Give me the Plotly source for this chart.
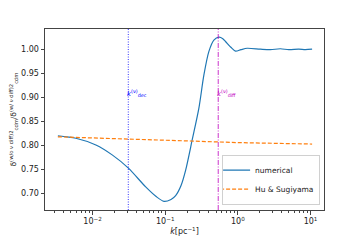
import plotly.graph_objects as go
import math

# numerical ratio
k_num = [0.00333, 0.00588, 0.0111, 0.0188, 0.0311, 0.0538, 0.075, 0.096, 0.12, 0.139,
         0.165, 0.191, 0.236, 0.290, 0.340, 0.398, 0.467, 0.547, 0.620, 0.676, 0.80, 0.927,
         1.10, 1.34, 2.04, 2.80, 3.85, 5.00, 6.87, 8.49, 10.5]
r_num = [0.820, 0.815, 0.801, 0.780, 0.753, 0.714, 0.694, 0.684, 0.688, 0.696,
         0.717, 0.749, 0.813, 0.877, 0.946, 0.995, 1.019, 1.025, 1.022, 1.016, 1.004, 0.996,
         0.999, 1.002, 1.000, 0.999, 1.001, 0.999, 1.000, 0.999, 1.000]

# Hu & Sugiyama
k_hs = [0.00333, 0.01, 0.031, 0.1, 0.25, 1.0, 3.0, 10.5]
r_hs = [0.818, 0.816, 0.813, 0.811, 0.809, 0.806, 0.804, 0.803]

k_dec = 0.031
k_diff = 0.536

xtick_vals = [0.01, 0.1, 1, 10]
xtick_text = ["10<sup>−2</sup>", "10<sup>−1</sup>", "10<sup>0</sup>", "10<sup>1</sup>"]
ytick_vals = [0.70, 0.75, 0.80, 0.85, 0.90, 0.95, 1.00]

minor_vals = [m * 10.0 ** e for e in range(-3, 2) for m in range(2, 10)]

fig = go.Figure()
fig.add_trace(go.Scatter(x=k_num, y=r_num, mode="lines", name="numerical",
                         line=dict(color="#1f77b4", width=1.2, shape="spline", smoothing=0.8)))
fig.add_trace(go.Scatter(x=k_hs, y=r_hs, mode="lines", name="Hu & Sugiyama",
                         line=dict(color="#ff7f0e", width=1.2, dash="4px,2px")))
fig.add_trace(go.Scatter(x=[k_dec, k_dec], y=[0, 1], yaxis="y2", mode="lines", showlegend=False,
                         line=dict(color="#0000ff", width=0.8, dash="1px,1.5px")))
fig.add_trace(go.Scatter(x=[k_diff, k_diff], y=[0, 1], yaxis="y2", mode="lines", showlegend=False,
                         line=dict(color="#bf00bf", width=0.8, dash="5px,1.5px,1px,1.5px")))

fig.add_annotation(x=math.log10(k_dec), y=0.909, xref="x", yref="y", xanchor="left", yanchor="middle",
                   text="<i>k</i><sup>(ν)</sup><sub>dec</sub>", showarrow=False,
                   font=dict(color="#0000ff", size=7), xshift=-3)
fig.add_annotation(x=math.log10(k_diff), y=0.909, xref="x", yref="y", xanchor="left", yanchor="middle",
                   text="<i>k</i><sup>(ν)</sup><sub>diff</sub>", showarrow=False,
                   font=dict(color="#bf00bf", size=7), xshift=-3)

axis_common = dict(showline=True, linecolor="#444", linewidth=1, mirror=True, showgrid=False,
                   ticks="outside", ticklen=3.5, tickwidth=0.8, tickcolor="#444", zeroline=False,
                   automargin=False)

fig.update_layout(
    width=360, height=240,
    margin=dict(l=45, r=36, t=29, b=30),
    paper_bgcolor="white", plot_bgcolor="white",
    font=dict(family="DejaVu Sans", size=8, color="#222"),
    xaxis=dict(type="log", range=[-2.655, 1.185], tickvals=xtick_vals, ticktext=xtick_text,
               minor=dict(tickvals=minor_vals, ticks="outside", ticklen=2, tickwidth=0.6, tickcolor="#444"),
               title=dict(text="<i>k</i>[pc<sup>−1</sup>]", standoff=2, font=dict(size=8)),
               **axis_common),
    yaxis=dict(range=[0.666, 1.042], tickvals=ytick_vals, tickformat=".2f",
               title=dict(text="δ<sup>(w/o ν diff)2</sup><sub>cdm</sub>/δ<sup>(w/ ν diff)2</sup><sub>cdm</sub>",
                          standoff=3, font=dict(size=7.5)),
               **axis_common),
    yaxis2=dict(overlaying="y", range=[0, 1], visible=False, fixedrange=True),
    legend=dict(x=0.986, y=0.03, xanchor="right", yanchor="bottom", bgcolor="rgba(255,255,255,0.8)",
                bordercolor="#d0d0d0", borderwidth=1, font=dict(size=7.5), tracegroupgap=0,
                itemwidth=30, indentation=-8),
    showlegend=True,
)

fig.write_html("out.html", post_script="document.body.style.margin='0';",
               config={"displayModeBar": False})
